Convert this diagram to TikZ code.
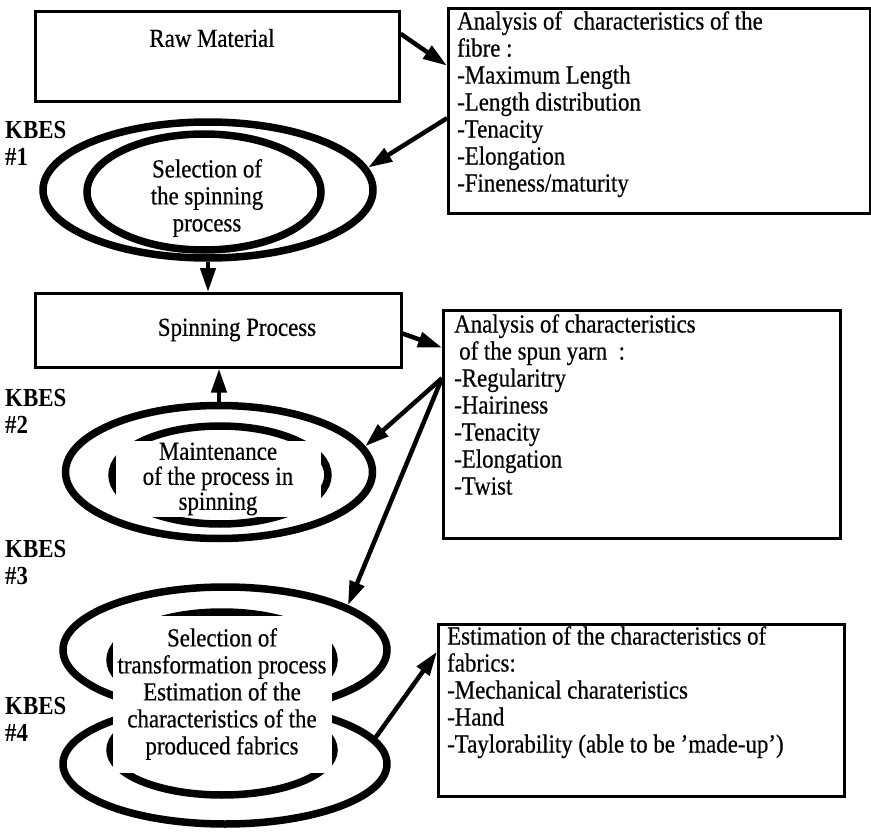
\documentclass[tikz,border=0pt]{standalone}
\usepackage{fontspec}
\setmainfont{Liberation Serif}[FakeStretch=0.88,UprightFeatures={FakeBold=0.5}]
\usetikzlibrary{shapes.geometric,arrows.meta,positioning}

\begin{document}
\begin{tikzpicture}[x=1pt,y=-1pt,
  every node/.style={font=\fontsize{26}{27}\selectfont},
  frame/.style={draw,line width=2.6pt,inner sep=0pt,anchor=north west},
  ring/.style={draw,ellipse,line width=7.5pt,inner sep=0pt},
  listtext/.style={align=left,inner sep=0pt,anchor=north west},
  kbes/.style={font=\fontsize{26}{27}\selectfont\bfseries,align=left,anchor=west,inner sep=0pt},
  flow/.style={line width=4.5pt,-{Triangle[length=24pt,width=15pt]}}]
\useasboundingbox (0,0) rectangle (871,832);
            % Boxes
\node[frame,minimum width=364pt,minimum height=90pt] (raw) at (34,10) {};
\node (rawtxt) at (212,38) {Raw Material};
\node[frame,minimum width=422pt,minimum height=205pt] (fibre) at (447,7) {};
\node[listtext,below right=4pt and 10pt of fibre.north west] (fibrelist)
  {Analysis of~ characteristics of the\\fibre :\\-Maximum Length\\-Length distribution\\-Tenacity\\-Elongation\\-Fineness/maturity};
\node[frame,minimum width=366pt,minimum height=74pt] (spin) at (34,292) {};
\node (spintxt) at (237,330) {Spinning Process};
\node[frame,minimum width=397pt,minimum height=228pt] (yarn) at (442,309) {};
\node[listtext,below right=5pt and 12pt of yarn.north west] (yarnlist)
  {Analysis of characteristics\\\hspace{5pt}of the spun yarn~ :\\-Regularitry\\-Hairiness\\-Tenacity\\-Elongation\\-Twist};
\node[frame,minimum width=406pt,minimum height=172pt] (fab) at (437,623) {};
\node[listtext,below right=3pt and 10pt of fab.north west] (fablist)
  {Estimation of the characteristics of\\fabrics:\\-Mechanical charateristics\\-Hand\\-Taylorability (able to be 'made-up')};
            % KBES #1
\node[kbes] (k1) at (5,143) {KBES\\\#1};
\node[ring,minimum width=330pt,minimum height=136pt] (sel1) at (208,190) {};
\node[ring,minimum width=234pt,minimum height=116pt] (sel1in) at (204,192) {};
\node[align=center] (sel1txt) at (207,198) {Selection of\\the spinning\\process};
            % KBES #2
\node[kbes] (k2) at (5,411) {KBES\\\#2};
\node[ring,minimum width=307pt,minimum height=133pt] (sel2) at (219,472) {};
\node[ring,minimum width=216pt,minimum height=98pt] (sel2in) at (220,475) {};
\node[align=center,fill=white,font=\fontsize{26}{25}\selectfont,minimum width=205pt,inner ysep=2pt] (sel2txt) at (218,479)
  {Maintenance\\of the process in\\spinning};
            % KBES #3 and #4
\node[kbes] (k3) at (5,563) {KBES\\\#3};
\node[kbes] (k4) at (5,719) {KBES\\\#4};
\node[ring,minimum width=324pt,minimum height=126pt] (sel3) at (225,650) {};
\node[ring,minimum width=224pt,minimum height=96pt] (sel3in) at (222,660) {};
\node[ring,minimum width=324pt,minimum height=120pt] (sel4) at (225,764) {};
\node[ring,minimum width=224pt,minimum height=90pt] (sel4in) at (222,750) {};
\node[align=center,fill=white,minimum width=219pt,minimum height=157pt] (sel34txt) at (222,694)
  {Selection of\\transformation process\\Estimation of the\\characteristics of the\\produced fabrics};
            %Arrows
\draw[flow] (raw.7) -- (fibre.168);
\draw[flow] (fibre.182) -- (sel1.8);
\draw[flow] (sel1.south) -- (sel1.south |- spin.north);
\draw[flow] (spin.-1) -- (yarn.159);
\draw[flow] (sel2.north) -- (sel2.north |- spin.south);
\draw[flow] (yarn.167) -- (sel2.10);
\draw[flow] (yarn.167) -- (sel3.20);
\draw[flow] (sel4.10) -- (fab.164);
\end{tikzpicture}
\end{document}
